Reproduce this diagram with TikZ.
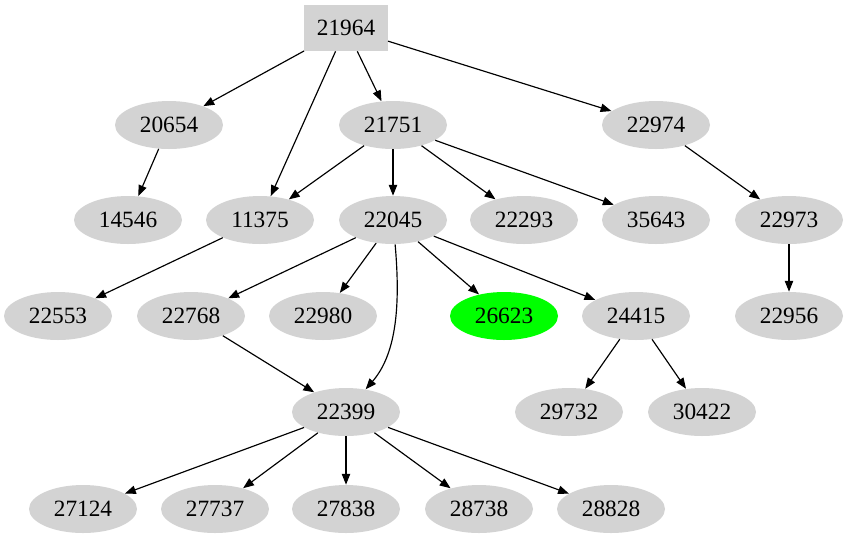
\documentclass[tikz,border=0pt]{standalone}
\usepackage{fontspec}
\setmainfont{Liberation Serif}
\usetikzlibrary{shapes.geometric,arrows.meta}
\definecolor{gvgray}{RGB}{211,211,211}
\definecolor{gvgreen}{RGB}{0,255,0}
\tikzset{
  gv/.style={ellipse, fill=gvgray, minimum width=64.8pt, minimum height=28.8pt, inner sep=0pt, font=\fontsize{14}{16}\selectfont},
  gvbox/.style={rectangle, fill=gvgray, minimum width=50pt, minimum height=27.6pt, inner sep=0pt, font=\fontsize{14}{16}\selectfont},
  hot/.style={fill=gvgreen},
  edge/.style={line width=0.7pt, -{Triangle[length=6.5pt,width=5pt]}}
}
\begin{document}
\begin{tikzpicture}[x=0.6pt,y=-0.6pt]
\useasboundingbox (0,0) rectangle (847,539);
% rank 0
\node[gvbox] (n21964) at (346,28) {21964};
% rank 1
\node[gv] (n20654) at (169,125) {20654};
\node[gv] (n21751) at (393,125) {21751};
\node[gv] (n22974) at (656,125) {22974};
% rank 2
\node[gv] (n14546) at (128,220) {14546};
\node[gv] (n11375) at (260,220) {11375};
\node[gv] (n22045) at (393,220) {22045};
\node[gv] (n22293) at (524,220) {22293};
\node[gv] (n35643) at (656,220) {35643};
\node[gv] (n22973) at (789,220) {22973};
% rank 3
\node[gv] (n22553) at (58,316) {22553};
\node[gv] (n22768) at (191,316) {22768};
\node[gv] (n22980) at (323,316) {22980};
\node[gv,hot] (n26623) at (504,316) {26623};
\node[gv] (n24415) at (636,316) {24415};
\node[gv] (n22956) at (789,316) {22956};
% rank 4
\node[gv] (n22399) at (346,412) {22399};
\node[gv] (n29732) at (569,412) {29732};
\node[gv] (n30422) at (702,412) {30422};
% rank 5
\node[gv] (n27124) at (83,509) {27124};
\node[gv] (n27737) at (215,509) {27737};
\node[gv] (n27838) at (346,509) {27838};
\node[gv] (n28738) at (479,509) {28738};
\node[gv] (n28828) at (611,509) {28828};
% edges
\draw[edge] (n21964) -- (n20654);
\draw[edge] (n21964) -- (n11375);
\draw[edge] (n21964) -- (n21751);
\draw[edge] (n21964) -- (n22974);
\draw[edge] (n20654) -- (n14546);
\draw[edge] (n21751) -- (n11375);
\draw[edge] (n21751) -- (n22045);
\draw[edge] (n21751) -- (n22293);
\draw[edge] (n21751) -- (n35643);
\draw[edge] (n22974) -- (n22973);
\draw[edge] (n11375) -- (n22553);
\draw[edge] (n22045) -- (n22768);
\draw[edge] (n22045) -- (n22980);
\draw[edge] (n22045) .. controls (400,300) and (398,352) .. (n22399);
\draw[edge] (n22045) -- (n26623);
\draw[edge] (n22045) -- (n24415);
\draw[edge] (n22973) -- (n22956);
\draw[edge] (n22768) -- (n22399);
\draw[edge] (n24415) -- (n29732);
\draw[edge] (n24415) -- (n30422);
\draw[edge] (n22399) -- (n27124);
\draw[edge] (n22399) -- (n27737);
\draw[edge] (n22399) -- (n27838);
\draw[edge] (n22399) -- (n28738);
\draw[edge] (n22399) -- (n28828);
\end{tikzpicture}
\end{document}
